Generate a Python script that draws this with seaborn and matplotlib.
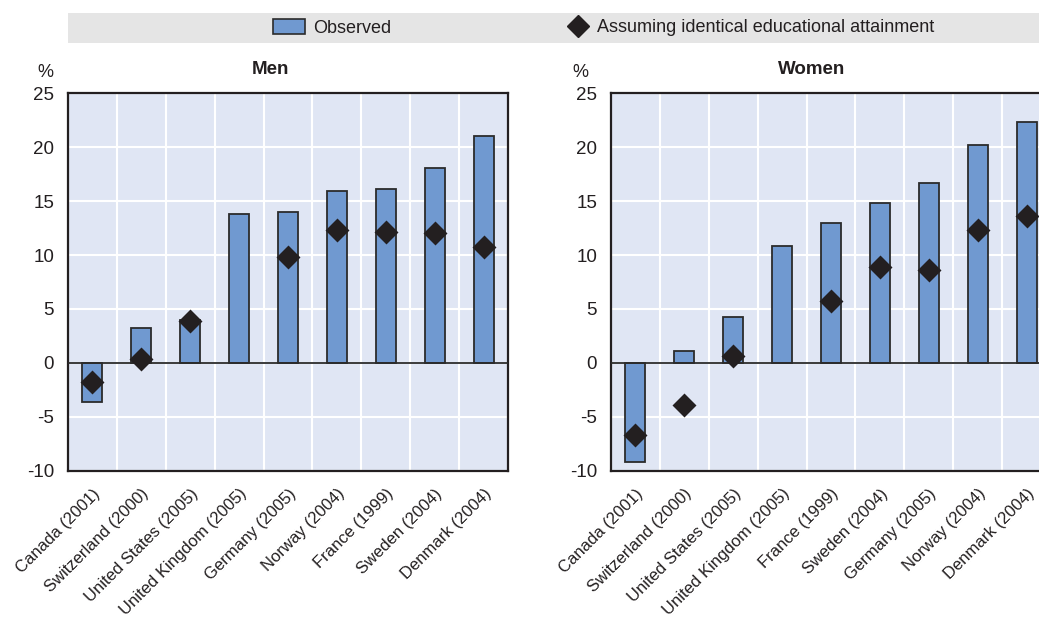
import numpy as np
import pandas as pd
import matplotlib
matplotlib.use('Agg')
import matplotlib.pyplot as plt
from matplotlib.patches import Rectangle
from matplotlib.lines import Line2D
from matplotlib.patches import Patch
import seaborn as sns

# Data
men_countries = ['Canada (2001)', 'Switzerland (2000)', 'United States (2005)',
                 'United Kingdom (2005)', 'Germany (2005)', 'Norway (2004)',
                 'France (1999)', 'Sweden (2004)', 'Denmark (2004)']
men_observed = [-3.6, 3.2, 4.0, 13.8, 14.0, 15.9, 16.1, 18.1, 21.0]
men_identical = [-1.8, 0.4, 3.9, np.nan, 9.8, 12.3, 12.1, 12.0, 10.7]

women_countries = ['Canada (2001)', 'Switzerland (2000)', 'United States (2005)',
                   'United Kingdom (2005)', 'France (1999)', 'Sweden (2004)',
                   'Germany (2005)', 'Norway (2004)', 'Denmark (2004)']
women_observed = [-9.2, 1.1, 4.3, 10.8, 13.0, 14.8, 16.7, 20.2, 22.3]
women_identical = [-6.7, -3.9, 0.6, np.nan, 5.7, 8.9, 8.6, 12.3, 13.6]

y_ticks = [-10, -5, 0, 5, 10, 15, 20, 25]

BAR_COLOR = '#7099d0'
EDGE = '#2b2b2b'
BG = '#e0e6f4'
DARK = '#231f20'

sns.set_style('white')
plt.rcParams['font.family'] = ['Liberation Sans', 'DejaVu Sans']
plt.rcParams['text.color'] = DARK
plt.rcParams['axes.labelcolor'] = DARK
plt.rcParams['xtick.color'] = DARK
plt.rcParams['ytick.color'] = DARK

W, H = 1039, 618
fig = plt.figure(figsize=(W / 100, H / 100), dpi=100)


def draw_panel(rect, countries, observed, identical, title, title_x, pct_x):
    ax = fig.add_axes(rect)
    df = pd.DataFrame({'country': countries, 'observed': observed, 'identical': identical})
    ax.set_facecolor(BG)

    sns.barplot(data=df, x='country', y='observed', order=countries, ax=ax,
                color=BAR_COLOR, edgecolor=EDGE, linewidth=1.3, width=0.41,
                saturation=1, zorder=3)
    sns.pointplot(data=df.dropna(), x='country', y='identical', order=countries, ax=ax,
                  color=DARK, marker='D', markersize=10, linestyle='none',
                  errorbar=None, zorder=5)

    n = len(countries)
    ax.set_xlim(-0.5, n - 0.5)
    ax.set_ylim(-10, 25)
    ax.set_yticks(y_ticks)
    ax.set_yticklabels([str(t) for t in y_ticks], fontsize=13.5)
    ax.set_xticks(range(n))
    ax.set_xticklabels(countries, rotation=45, ha='right', rotation_mode='anchor', fontsize=12)
    ax.set_xticks(np.arange(0.5, n - 0.5, 1), minor=True)
    ax.tick_params(axis='x', which='major', length=0, pad=11)
    ax.tick_params(axis='x', which='minor', direction='in', length=8, width=1.3, color='#3a3a3a')
    ax.tick_params(axis='y', direction='in', length=8, width=1.3, color='#3a3a3a', pad=10)

    ax.grid(False)
    ax.grid(True, axis='y', which='major', color='white', linewidth=1.5, zorder=0)
    ax.grid(True, axis='x', which='minor', color='white', linewidth=1.5, zorder=0)
    ax.set_axisbelow(True)
    ax.axhline(0, color=EDGE, linewidth=1.3, zorder=4)

    for s in ax.spines.values():
        s.set_visible(True)
        s.set_color(DARK)
        s.set_linewidth(1.6)

    ax.set_xlabel('')
    ax.set_ylabel('')
    ax.text(title_x, 1.062, title, transform=ax.transAxes, ha='center', va='center',
            fontsize=13.5, fontweight='bold')
    ax.text(pct_x, 1.055, '%', transform=ax.transAxes, ha='center', va='center', fontsize=13)
    return ax


ax_w = 440 / W
ax_h = 377.4 / H
ax_b = (H - 470.7) / H
draw_panel([68 / W, ax_b, ax_w, ax_h], men_countries, men_observed, men_identical,
           'Men', 0.461, -0.052)
draw_panel([611 / W, ax_b, ax_w, ax_h], women_countries, women_observed, women_identical,
           'Women', 0.457, -0.07)

# Grey legend band
fig.patches.append(Rectangle((68 / W, 1 - 43 / H), 1.2, 30 / H, transform=fig.transFigure,
                             facecolor='#e5e5e5', edgecolor='none', zorder=0))
leg_y = 1 - 28 / H
fig.legend([Patch(facecolor=BAR_COLOR, edgecolor=EDGE, linewidth=1.2)], ['Observed'],
           loc='center left', bbox_to_anchor=(273 / W, leg_y), frameon=False,
           fontsize=13, handlelength=1.75, handleheight=0.9, handletextpad=0.45,
           borderpad=0, borderaxespad=0)
fig.legend([Line2D([], [], linestyle='none', marker='D', markersize=11, color=DARK)],
           ['Assuming identical educational attainment'],
           loc='center left', bbox_to_anchor=(566 / W, leg_y), frameon=False,
           fontsize=13, handlelength=1.3, handletextpad=0.4,
           borderpad=0, borderaxespad=0)

fig.savefig('out.png', dpi=100)
